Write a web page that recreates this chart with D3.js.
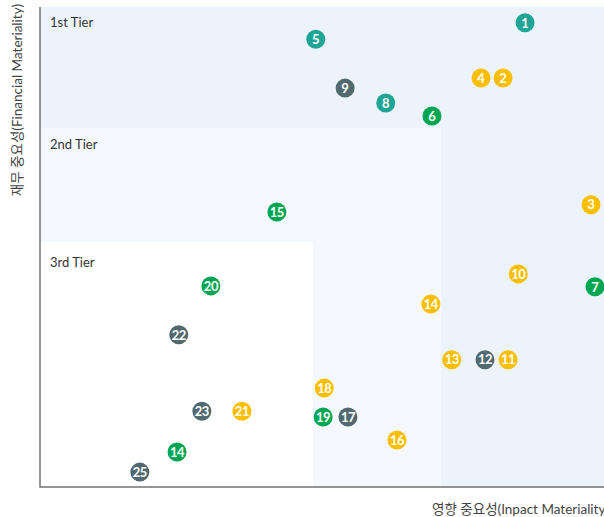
<!DOCTYPE html>
<html>
<head>
<meta charset="utf-8">
<script src="https://cdn.jsdelivr.net/npm/d3@7"></script>
<style>
  body { margin: 0; background: #fff; }
  svg { display: block; font-family: Lato, "Noto Sans CJK KR", sans-serif; }
  .tier { font-size: 13px; fill: #333; }
  .axlabel { font-size: 13.5px; fill: #444; }
  .num { font-size: 13px; font-weight: bold; fill: #fff; }
</style>
</head>
<body>
<div id="chart"></div>
<script>
var width = 604, height = 517;
var margin = {left: 40, top: 7, bottom: 30};

// issue numbers, impact (x) and financial (y) scores, colour group
var ids    = [1, 2, 4, 5, 9, 8, 6, 15, 3, 10, 7, 20, 14, 22, 13, 12, 11, 18, 23, 21, 19, 17, 16, 14, 25];
var impact = [86.0, 82.1, 78.2, 48.9, 54.1, 61.3, 69.5, 42.0, 97.7, 84.8, 98.4, 30.3, 69.3, 24.6, 73.0, 78.9, 83.0, 50.4, 28.7, 35.8, 50.2, 54.6, 63.3, 24.3, 17.7];
var financ = [96.7, 85.2, 85.2, 93.3, 83.1, 80.0, 77.3, 57.3, 58.8, 44.4, 41.7, 41.9, 38.1, 31.7, 26.5, 26.5, 26.5, 20.6, 15.8, 15.8, 14.6, 14.6, 9.8, 7.3, 3.1];
var group  = ["teal", "yellow", "yellow", "teal", "slate", "teal", "green", "green", "yellow", "yellow", "green", "green", "yellow", "slate", "yellow", "slate", "yellow", "yellow", "slate", "yellow", "green", "slate", "yellow", "green", "slate"];

// tier thresholds (x, y)
var tierNames = ["1st Tier", "2nd Tier", "3rd Tier"];
var tierX = [71.1, 48.4];
var tierY = [74.8, 51.0];

var colors = {teal: "#1fa595", yellow: "#fbbf00", slate: "#52696f", green: "#00a652"};

var x = d3.scaleLinear().domain([0, 100]).range([margin.left, width]);
var y = d3.scaleLinear().domain([0, 100]).range([height - margin.bottom, margin.top]);

var svg = d3.select("#chart").append("svg")
    .attr("width", width)
    .attr("height", height);

// backgrounds: tier 1 full, then tier 2, then tier 3
svg.append("rect")
    .attr("x", x(0)).attr("y", y(100))
    .attr("width", x(100) - x(0)).attr("height", y(0) - y(100))
    .attr("fill", "#ecf3fa");
svg.append("rect")
    .attr("x", x(0)).attr("y", y(tierY[0]))
    .attr("width", x(tierX[0]) - x(0)).attr("height", y(0) - y(tierY[0]))
    .attr("fill", "#f5f9fd");
svg.append("rect")
    .attr("x", x(0)).attr("y", y(tierY[1]))
    .attr("width", x(tierX[1]) - x(0)).attr("height", y(0) - y(tierY[1]))
    .attr("fill", "#ffffff");

// tier labels
var tierTops = [100, tierY[0], tierY[1]];
var tierPad = [20, 21, 25];
svg.selectAll(".tier")
    .data(tierNames)
  .enter().append("text")
    .attr("class", "tier")
    .attr("x", x(0) + 10)
    .attr("y", function(d, i) { return y(tierTops[i]) + tierPad[i]; })
    .text(function(d) { return d; });

// axes lines
svg.append("path")
    .attr("d", "M" + x(0) + "," + y(100) + "V" + y(0) + "H" + x(100))
    .attr("fill", "none")
    .attr("stroke", "#737373")
    .attr("stroke-width", 1.5);

// axis titles
svg.append("text")
    .attr("class", "axlabel")
    .attr("transform", "translate(22," + 100 + ") rotate(-90)")
    .attr("text-anchor", "middle")
    .text("재무 중요성(Financial Materiality)");

svg.append("text")
    .attr("class", "axlabel")
    .attr("x", 432)
    .attr("y", 514)
    .text("영향 중요성(Inpact Materiality)");

// points
var pts = svg.selectAll(".pt")
    .data(ids)
  .enter().append("g")
    .attr("class", "pt")
    .attr("transform", function(d, i) { return "translate(" + x(impact[i]) + "," + y(financ[i]) + ")"; });

pts.append("circle")
    .attr("r", 9.5)
    .attr("fill", function(d, i) { return colors[group[i]]; });

pts.append("text")
    .attr("class", "num")
    .attr("text-anchor", "middle")
    .attr("dy", "0.36em")
    .attr("letter-spacing", function(d) { return d > 9 ? "-0.5px" : null; })
    .text(function(d) { return d; });
</script>
</body>
</html>
